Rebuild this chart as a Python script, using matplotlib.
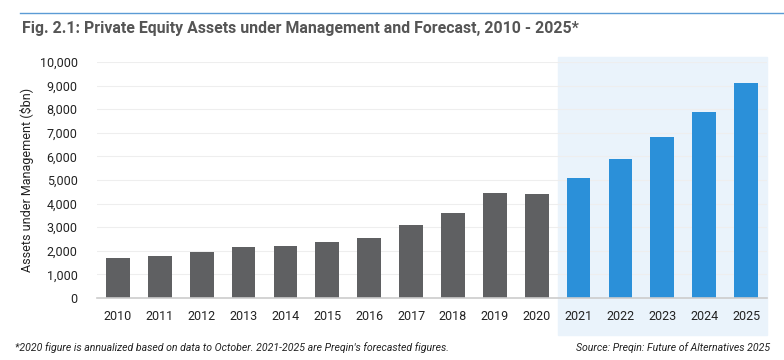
import matplotlib.pyplot as plt

years = ["2010", "2011", "2012", "2013", "2014", "2015", "2016", "2017",
         "2018", "2019", "2020", "2021", "2022", "2023", "2024", "2025"]
aum = [1680, 1780, 1930, 2160, 2215, 2360, 2540, 3090, 3610, 4450, 4410,
       5080, 5890, 6810, 7880, 9110]
n_actual = 11  # 2010-2020 actual, the rest forecast

plt.rcParams['font.family'] = ['Roboto', 'DejaVu Sans']

fig = plt.figure(figsize=(7.84, 3.6), dpi=100)
ax = fig.add_axes([97 / 784, 62 / 360, 670 / 784, 236 / 360])

x = list(range(len(years)))
colors = ['#5f6062'] * n_actual + ['#2b90d9'] * (len(years) - n_actual)
ax.bar(x, aum, width=0.57, color=colors, zorder=3)

# forecast shading, extending past the axes
ax.axvspan(n_actual - 0.5, len(years) - 0.5, ymin=-0.157, ymax=1.021,
           color='#eaf3fb', zorder=0, clip_on=False)

ax.set_xlim(-0.5, len(years) - 0.5)
ax.set_ylim(0, 10000)
ax.set_yticks(range(0, 10001, 1000))
ax.set_yticklabels([f"{v:,}" for v in range(0, 10001, 1000)])
ax.set_xticks(x)
ax.set_xticklabels(years)
ax.tick_params(axis='both', length=0, labelsize=9, labelcolor='#222222')
ax.tick_params(axis='x', pad=9)
ax.tick_params(axis='y', pad=14)
ax.grid(axis='y', color='#eeeeee', linewidth=0.8, zorder=1)
for s in ['top', 'right', 'left']:
    ax.spines[s].set_visible(False)
ax.spines['bottom'].set_color('#cccccc')
ax.spines['bottom'].set_linewidth(1.2)
ax.spines['bottom'].set_zorder(4)
ax.set_facecolor('none')
ax.set_ylabel("Assets under Management ($bn)", fontsize=9, color='#222222',
              labelpad=4)

# header line and title
fig.add_artist(plt.Line2D([20 / 784, 1], [1 - 13 / 360] * 2,
                          color='#5b9bd5', linewidth=1))
fig.text(22 / 784, 1 - 28 / 360,
         "Fig. 2.1: Private Equity Assets under Management and Forecast, 2010 - 2025*",
         fontsize=11.4, fontweight='bold', color='#555555', va='center')

# footnotes
fig.text(15 / 784, 1 - 348 / 360,
         "*2020 figure is annualized based on data to October. 2021-2025 are Preqin's forecasted figures.",
         fontsize=7.6, style='italic', color='#222222', va='center')
fig.text(770 / 784, 1 - 348 / 360,
         "Source: Preqin: Future of Alternatives 2025",
         fontsize=7.6, style='italic', color='#222222', va='center', ha='right')

fig.savefig("out.png", dpi=100)
